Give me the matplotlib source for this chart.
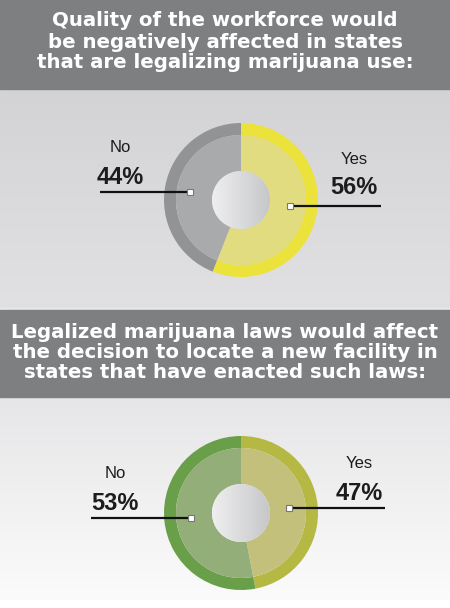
import numpy as np
import matplotlib
matplotlib.use("Agg")
from matplotlib import pyplot as plt
from matplotlib.patches import Rectangle, Circle

# data
titles = [
    ["Quality of the workforce would",
     "be negatively affected in states",
     "that are legalizing marijuana use:"],
    ["Legalized marijuana laws would affect",
     "the decision to locate a new facility in",
     "states that have enacted such laws:"],
]
answers = ["Yes", "No"]
values_q1 = [56, 44]
values_q2 = [47, 53]
outer_colors_q1 = ["#ebe33b", "#929395"]
inner_colors_q1 = ["#e2dc80", "#a9aaac"]
outer_colors_q2 = ["#b5b843", "#6a9f49"]
inner_colors_q2 = ["#c3c07b", "#93ae78"]

W, H = 450, 608
fig = plt.figure(figsize=(4.5, 6.08), dpi=100)
ax = fig.add_axes([0, 0, 1, 1])
ax.set_xlim(0, W)
ax.set_ylim(0, H)
ax.axis("off")


def Y(py):
    # pixel row (from top) -> data y
    return H - py


def vgrad(top, bottom, c_top, c_bot):
    grad = np.linspace(0, 1, 256).reshape(-1, 1)
    c1 = np.array(matplotlib.colors.to_rgb(c_top))
    c2 = np.array(matplotlib.colors.to_rgb(c_bot))
    img = c1 + (c2 - c1) * grad[..., None]
    ax.imshow(img, extent=(0, W, Y(bottom), Y(top)), aspect="auto", zorder=0)


# backgrounds
ax.add_patch(Rectangle((0, 0), W, H, color="white", zorder=-1))
ax.add_patch(Rectangle((0, Y(89)), W, 89, color="#7e7f81", zorder=1))
vgrad(89, 308, "#d3d3d5", "#e1e1e3")
ax.add_patch(Rectangle((0, Y(310)), W, 2, color="#e8e8ea", zorder=1))
ax.add_patch(Rectangle((0, Y(397)), W, 87, color="#7e7f81", zorder=1))
vgrad(397, 600, "#e6e6e8", "#fbfbfb")

# header titles
for lines, ys in zip(titles, [(21, 43, 63), (332, 353, 373)]):
    for line, py in zip(lines, ys):
        ax.text(W / 2, Y(py), line, ha="center", va="center", color="white",
                fontsize=14.2, fontweight="bold", family="DejaVu Sans", zorder=5)


def donut(cx, cy, values, outer, inner):
    ax.pie(values, radius=77, center=(cx, cy), startangle=90, counterclock=False,
           colors=outer, wedgeprops=dict(width=12, linewidth=0), frame=True)
    ax.pie(values, radius=65, center=(cx, cy), startangle=90, counterclock=False,
           colors=inner, wedgeprops=dict(width=36, linewidth=0), frame=True)
    hole = Circle((cx, cy), 29, transform=ax.transData, facecolor="none",
                  edgecolor="none")
    ax.add_patch(hole)
    g = np.linspace(0, 1, 256).reshape(1, -1)
    c1 = np.array(matplotlib.colors.to_rgb("#efeff0"))
    c2 = np.array(matplotlib.colors.to_rgb("#c6c7c9"))
    img = c1 + (c2 - c1) * g[..., None]
    im = ax.imshow(img, extent=(cx - 29, cx + 29, cy - 29, cy + 29),
                   aspect="auto", zorder=4)
    im.set_clip_path(hole)


def label(name, value, tx, ty_name, ty_val, x0, x1, ly, marker_x):
    ax.text(tx, Y(ty_name), name, ha="center", va="center", fontsize=12,
            family="Liberation Sans", color="#1c1c1c", zorder=6)
    ax.text(tx, Y(ty_val), f"{value}%", ha="center", va="center", fontsize=17,
            fontweight="bold", family="Liberation Sans", color="#1c1c1c",
            zorder=6)
    ax.plot([x0, x1], [Y(ly), Y(ly)], color="#111111", lw=1.6, zorder=6,
            solid_capstyle="butt")
    ax.plot([marker_x], [Y(ly)], marker="s", ms=5, mfc="white", mec="#777777",
            mew=0.8, zorder=7)


donut(241, Y(200), values_q1, outer_colors_q1, inner_colors_q1)
label(answers[1], values_q1[1], 120, 147, 177, 100, 190, 192, 190)
label(answers[0], values_q1[0], 354, 160, 188, 290, 381, 206, 290)

donut(241, Y(513), values_q2, outer_colors_q2, inner_colors_q2)
label(answers[1], values_q2[1], 115, 473, 503, 91, 191, 518, 191)
label(answers[0], values_q2[0], 359, 463, 493, 289, 385, 508, 289)

ax.set_xlim(0, W)
ax.set_ylim(0, H)
ax.set_aspect("auto")
ax.axis("off")

fig.savefig("out.png", dpi=100)
